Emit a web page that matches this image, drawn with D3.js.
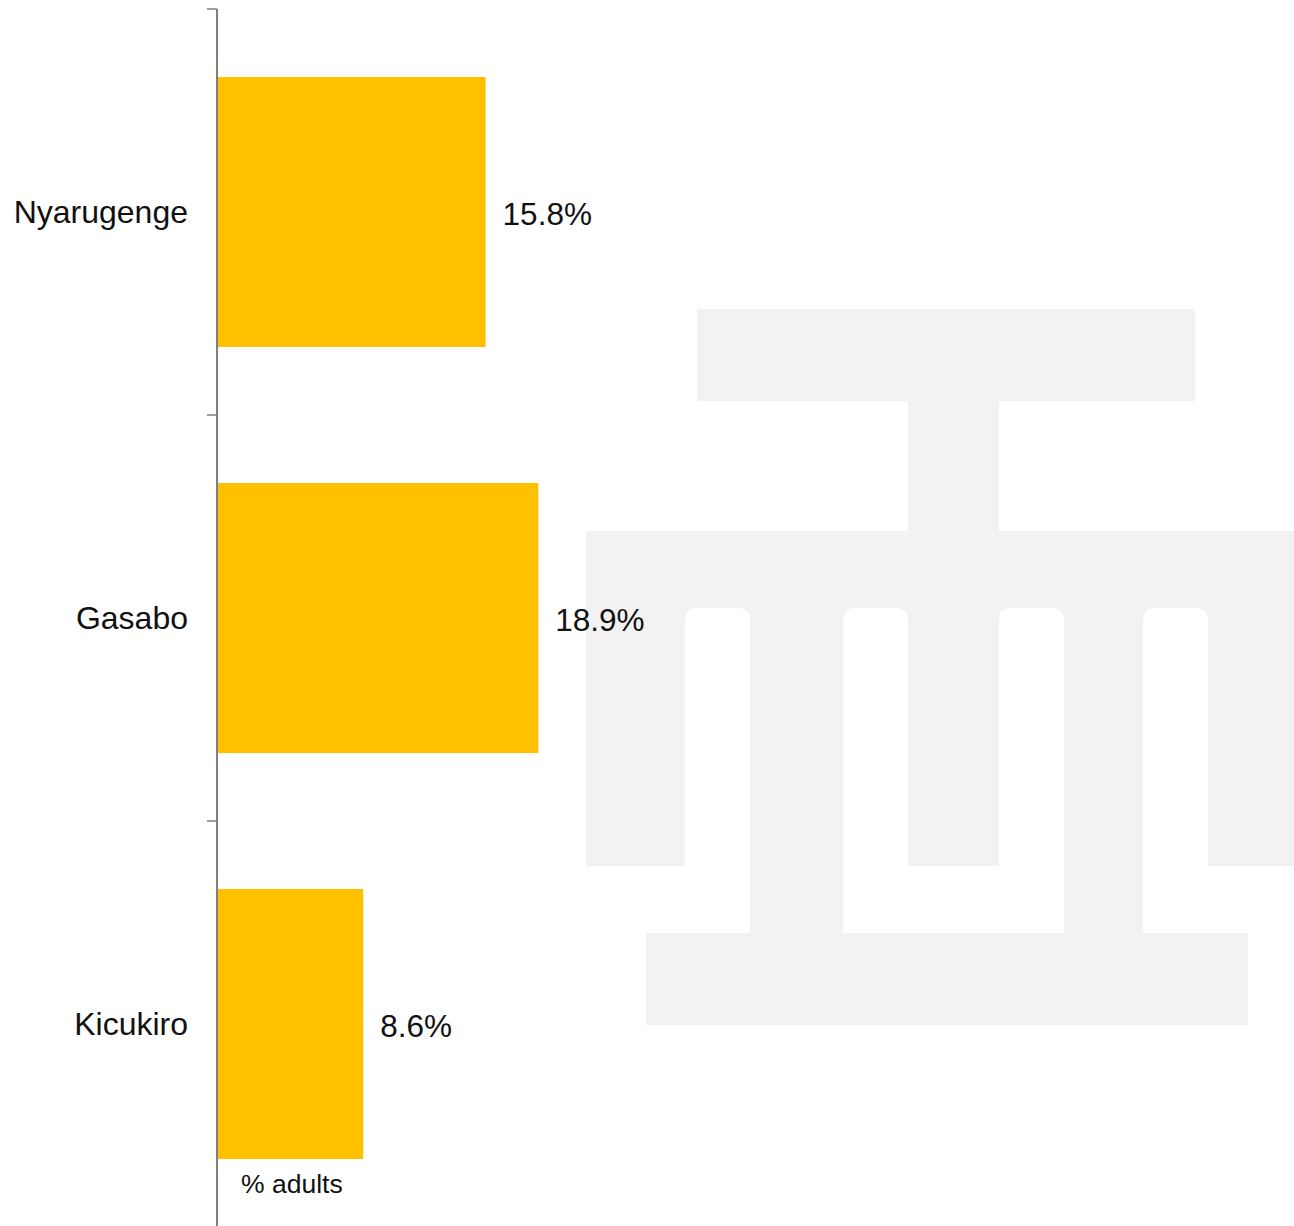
<!DOCTYPE html>
<html>
<head>
<meta charset="utf-8">
<script src="https://cdn.jsdelivr.net/npm/d3@7"></script>
<style>
  html, body { margin: 0; padding: 0; background: #fff; }
  svg { display: block; font-family: "Liberation Sans", Arial, Helvetica, sans-serif; }
</style>
</head>
<body>
<svg id="chart" width="1294" height="1226"></svg>
<script>
// District shares of adults
const districts = ["Nyarugenge", "Gasabo", "Kicukiro"];
const shares = [15.8, 18.9, 8.6];
const valueLabels = ["15.8%", "18.9%", "8.6%"];
const unitLabel = "% adults";

const axisX = 217, plotTop = 9, plotBottom = 1227;

const svg = d3.select("#chart");

// Background emblem in light grey
const emblem = svg.append("g").attr("fill", "#f2f2f2");
const greyParts = [
  [697, 309, 498, 92],   // top bar
  [908, 401, 91, 130],   // stem
  [586, 531, 708, 335],  // middle block
  [750, 866, 93, 67],    // inner legs
  [1064, 866, 79, 67],
  [646, 933, 602, 92]    // base
];
greyParts.forEach(([x, y, w, h]) => emblem.append("rect").attr("x", x).attr("y", y).attr("width", w).attr("height", h));
// white slots with rounded tops cut into the middle block
const slots = [[685, 65], [843, 65], [999, 65], [1143, 65]];
const rad = 13;
slots.forEach(([sx, sw]) => {
  const y0 = 608, y1 = 867;
  emblem.append("path")
    .attr("fill", "#fff")
    .attr("d", `M${sx},${y1}V${y0 + rad}Q${sx},${y0} ${sx + rad},${y0}H${sx + sw - rad}Q${sx + sw},${y0} ${sx + sw},${y0 + rad}V${y1}Z`);
});
// gap between centre column and base
emblem.append("rect").attr("fill", "#fff").attr("x", 843).attr("y", 866).attr("width", 221).attr("height", 67);

// Scales
const y = d3.scaleBand()
  .domain(districts)
  .range([plotTop, plotBottom])
  .paddingInner(0.335)
  .paddingOuter(0.1675);

const x = d3.scaleLinear().domain([0, 60]).range([axisX, axisX + 60 * 17]);

// Bars
svg.append("g").selectAll("rect")
  .data(districts)
  .join("rect")
  .attr("x", x(0))
  .attr("y", d => y(d))
  .attr("width", (d, i) => x(shares[i]) - x(0))
  .attr("height", y.bandwidth())
  .attr("fill", "#FFC000");

// Value labels
svg.append("g").selectAll("text")
  .data(districts)
  .join("text")
  .attr("x", (d, i) => x(shares[i]) + 17)
  .attr("y", d => y(d) + y.bandwidth() / 2 + 2)
  .attr("dy", "0.35em")
  .attr("font-size", 31.5)
  .attr("fill", "#111")
  .text((d, i) => valueLabels[i]);

// Category axis: ticks at band boundaries
const step = y.step();
const boundaries = d3.range(districts.length + 1).map(i => plotTop + i * step);
const axis = svg.append("g").attr("stroke", "#7f7f7f");
axis.append("line")
  .attr("x1", axisX).attr("x2", axisX)
  .attr("y1", plotTop).attr("y2", plotBottom)
  .attr("stroke-width", 2);
axis.selectAll(".tick")
  .data(boundaries)
  .join("line")
  .attr("class", "tick")
  .attr("x1", axisX - 10).attr("x2", axisX)
  .attr("y1", d => d).attr("y2", d => d)
  .attr("stroke-width", 1.5);

svg.append("g").selectAll("text")
  .data(districts)
  .join("text")
  .attr("x", 188)
  .attr("y", d => y(d) + y.bandwidth() / 2)
  .attr("dy", "0.35em")
  .attr("text-anchor", "end")
  .attr("font-size", 32)
  .attr("fill", "#111")
  .text(d => d);

// Unit note
svg.append("text")
  .attr("x", axisX + 24)
  .attr("y", 1184)
  .attr("dy", "0.35em")
  .attr("font-size", 26.5)
  .attr("fill", "#111")
  .text(unitLabel);
</script>
</body>
</html>
